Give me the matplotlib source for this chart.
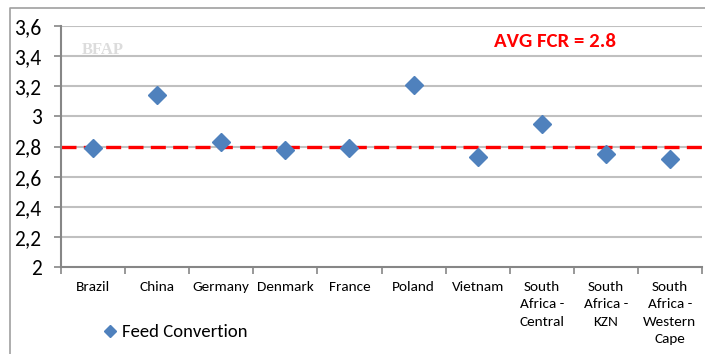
import matplotlib
matplotlib.use("Agg")
import matplotlib.pyplot as plt
from matplotlib.lines import Line2D

countries = ["Brazil", "China", "Germany", "Denmark", "France", "Poland", "Vietnam",
             "South\nAfrica -\nCentral", "South\nAfrica -\nKZN", "South\nAfrica -\nWestern\nCape"]
fcr = [2.79, 3.14, 2.83, 2.78, 2.79, 3.21, 2.73, 2.95, 2.75, 2.72]
avg_fcr = 2.8
yticks = [2.0, 2.2, 2.4, 2.6, 2.8, 3.0, 3.2, 3.4, 3.6]
ylabels = ["2", "2,2", "2,4", "2,6", "2,8", "3", "3,2", "3,4", "3,6"]

plt.rcParams["font.family"] = ["Carlito", "Lato", "DejaVu Sans"]

W, H = 705, 354
fig = plt.figure(figsize=(W / 100, H / 100), dpi=100)
ax = fig.add_axes([61 / W, 1 - 267 / H, (702 - 61) / W, (267 - 26) / H])

grid_c = "#c0c0c0"
axis_c = "#868686"

# outer chart frame (cropped at right/bottom)
fig.add_artist(Line2D([10 / W, 10 / W, 1], [0, 1 - 8 / H, 1 - 8 / H],
                      transform=fig.transFigure, color="#a0a0a0", lw=1.2))

x = list(range(len(countries)))
ax.set_xlim(-0.5, len(countries) - 0.5)
ax.set_ylim(2, 3.6)

for v in yticks[1:]:
    ax.axhline(v, color=grid_c, lw=1.5, zorder=1)

ax.axhline(avg_fcr, color="#ff0000", lw=2.4, ls=(0, (4.5, 2.2)), zorder=2)
ax.plot(x, fcr, ls="none", marker="D", ms=9.5, color="#4f81bd",
        mec="#4f81bd", zorder=3, label="Feed Convertion")

ax.text(7.2, 3.5, "AVG FCR = 2.8", color="#ff0000", fontsize=15, fontweight="bold",
        ha="center", va="center")

# faint logo watermark
ax.text(0.15, 3.44, "BFAP", color="#dcdcdc", fontsize=12, fontweight="bold",
        family="Liberation Serif", ha="center", va="center", zorder=0)

ax.set_yticks(yticks)
ax.set_yticklabels(ylabels, fontsize=15.5)
ax.set_xticks(x)
ax.set_xticklabels(countries, fontsize=11, va="top", ha="center", linespacing=1.55)
ax.set_xticks([i + 0.5 for i in x[:-1]] + [-0.5, len(countries) - 0.5], minor=True)
ax.tick_params(axis="x", which="major", length=0, pad=10)
ax.tick_params(axis="x", which="minor", length=5, color=axis_c, width=1.2)
ax.tick_params(axis="y", length=5, color=axis_c, width=1.2, pad=9)

for s in ["top", "right"]:
    ax.spines[s].set_visible(False)
for s in ["left", "bottom"]:
    ax.spines[s].set_color(axis_c)
    ax.spines[s].set_linewidth(1.5)

fig.legend(loc="center left", bbox_to_anchor=(88 / W, 1 - 332 / H), frameon=False,
           fontsize=13.5, handlelength=0.5, handletextpad=0.4, markerscale=0.6)

fig.savefig("out.png", dpi=100)
